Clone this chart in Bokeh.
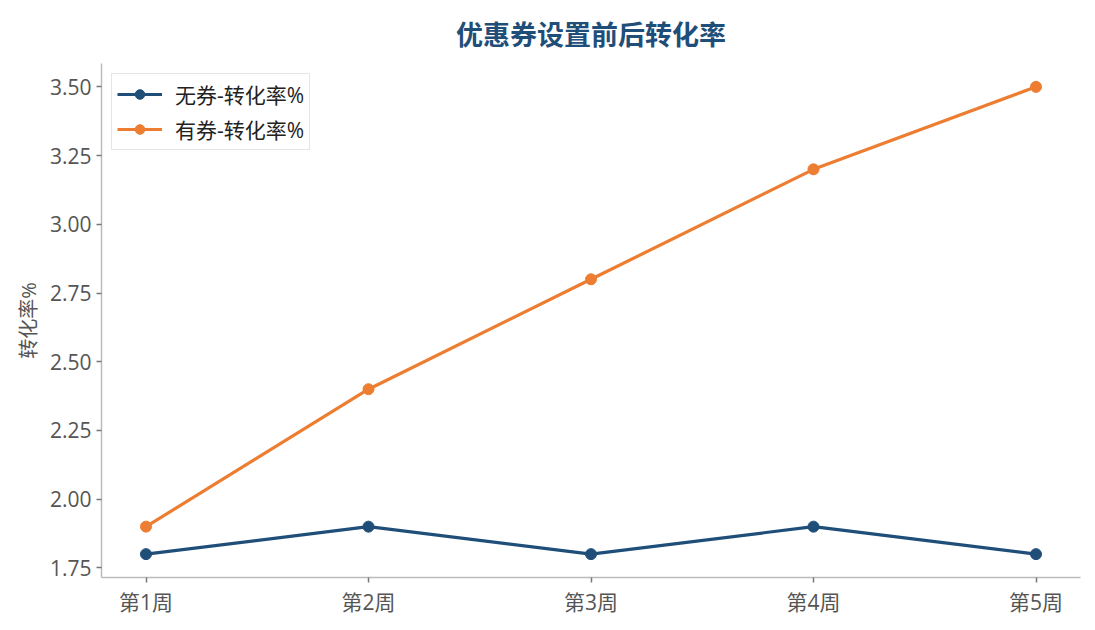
from bokeh.plotting import figure
from bokeh.models import ColumnDataSource, Range1d, FixedTicker, NumeralTickFormatter, Legend, LegendItem, Title
from bokeh.embed import file_html
from bokeh.resources import INLINE

weeks = ["第1周", "第2周", "第3周", "第4周", "第5周"]
no_coupon = [1.8, 1.9, 1.8, 1.9, 1.8]
with_coupon = [1.9, 2.4, 2.8, 3.2, 3.5]
y_ticks = [1.75, 2.0, 2.25, 2.5, 2.75, 3.0, 3.25, 3.5]

font = "'Open Sans', 'Noto Sans CJK SC'"
blue = "#1f4e79"
orange = "#ed7d31"

idx = list(range(len(weeks)))
source = ColumnDataSource(data=dict(x=idx, a=no_coupon, b=with_coupon))

p = figure(width=1095, height=630, output_backend="svg", toolbar_location=None, tools="",
           x_range=Range1d(-0.2, len(weeks) - 0.8), y_range=Range1d(1.715, 3.585),
           min_border_left=101, min_border_right=15, min_border_top=62, min_border_bottom=53)

# заголовок
title = Title(text="优惠券设置前后转化率", text_font="Noto Sans CJK SC", text_font_size="27px",
              text_font_style="bold", text_color=blue, align="center", standoff=22)
p.add_layout(title, "above")

# линии и точки
l1 = p.line("x", "a", source=source, line_color=blue, line_width=3.2)
c1 = p.scatter("x", "a", source=source, size=11, color=blue)
l2 = p.line("x", "b", source=source, line_color=orange, line_width=3.2)
c2 = p.scatter("x", "b", source=source, size=11, color=orange)

legend = Legend(items=[LegendItem(label="无券-转化率%", renderers=[l1, c1]),
                       LegendItem(label="有券-转化率%", renderers=[l2, c2])],
                location="top_left", margin=10, padding=5, spacing=5,
                glyph_width=45, glyph_height=24, label_height=24, label_standoff=13,
                label_text_font=font, label_text_font_size="21px", label_text_color="#222222",
                border_line_color="#cccccc", border_line_width=1.5, background_fill_alpha=1)
p.add_layout(legend)

# оси
p.xaxis.ticker = FixedTicker(ticks=idx)
p.xaxis.major_label_overrides = {i: w for i, w in enumerate(weeks)}
p.yaxis.ticker = FixedTicker(ticks=y_ticks)
p.yaxis.formatter = NumeralTickFormatter(format="0.00")
p.yaxis.axis_label = "转化率%"
p.yaxis.axis_label_text_font = font
p.yaxis.axis_label_text_font_size = "20px"
p.yaxis.axis_label_text_font_style = "normal"
p.yaxis.axis_label_text_color = "#555555"
p.axis.major_label_text_font = font
p.axis.major_label_text_font_size = "21px"
p.axis.major_label_text_color = "#555555"
p.axis.axis_line_color = "#bbbbbb"
p.axis.axis_line_width = 1.5
p.axis.major_tick_line_color = "#777777"
p.axis.major_tick_line_width = 1.5
p.axis.major_tick_in = 0
p.axis.major_tick_out = 5
p.axis.minor_tick_line_color = None

p.grid.grid_line_color = None
p.outline_line_color = None

open("out.html", "w").write(file_html(p, INLINE))
